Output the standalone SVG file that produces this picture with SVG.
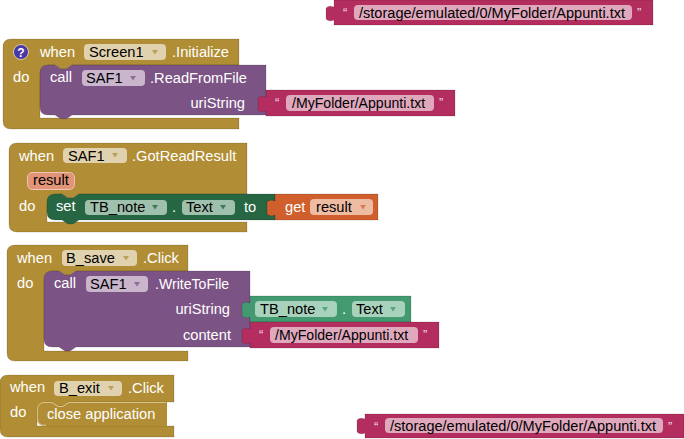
<svg xmlns="http://www.w3.org/2000/svg" width="684" height="439" viewBox="0 0 684 439">
<style>
text{font-family:"Liberation Sans",Arial,sans-serif;font-size:14.67px}
.l{fill:#fff}.k{fill:#000}.e{text-anchor:end}
.s{font-size:14.1px}
.u{font-size:14.55px}
.q{fill:#f4dbe4;font-size:13px}
.ctl{fill:#B18E35}.prc{fill:#7C5385}.str{fill:#B32D5E}.dg{fill:#266643}.lg{fill:#439970}.org{fill:#D05F2D}
.b{stroke:#000;stroke-opacity:.14;stroke-width:1}
.fc{fill:#E0D2AE}.fp{fill:#C9B6CD}.fs{fill:#E0A8BD}.fd{fill:#A0C0AE}.fl{fill:#A8D2BC}.fo{fill:#EDBCA3}
.ac{fill:#B9A05F}.ap{fill:#8E6E96}.ad{fill:#3E7A59}.al{fill:#58A680}.ao{fill:#DA7B4E}
</style>
<defs>
<path id="arr" d="M0 0h6l-3 4.500z"/>
</defs>

<g id="top-string">
<path class="str b" d="M334 0H653V25H334V20c-5 2-8 0-8-2V9c0-2 3-4 8-2z"/>
<text class="q" x="343" y="17">“</text><rect class="fs" x="354" y="5" width="278" height="15" rx="4"/>
<text class="k u" x="359" y="18">/storage/emulated/0/MyFolder/Appunti.txt</text><text class="q" x="637" y="17">”</text>
</g>

<g id="screen-init">
<path class="ctl b" d="M11 39H239V65H72l-6 4h-5l-6-4H48V73H40V118H239V129H11Q3 129 3 121V47Q3 39 11 39z"/>
<circle cx="21" cy="52" r="7.500" fill="#4A38A8" stroke="#D8CFA0" stroke-width="1"/>
<text x="21" y="56.500" text-anchor="middle" style="font-size:12px;font-weight:bold" class="l">?</text>
<text class="l" x="40" y="57">when</text>
<rect class="fc" x="84" y="44" width="82" height="16" rx="4"/><text class="k" x="89" y="57">Screen1</text><use href="#arr" class="ac" x="152" y="50"/>
<text class="l" x="172" y="57">.Initialize</text>
<text class="l" x="13" y="82">do</text>
<g id="call-read">
<path class="prc b" d="M48 65H55l6 4h5l6-4H266V115H72l-6 4h-5l-6-4H48Q40 115 40 107V73Q40 65 48 65z"/>
<text class="l" x="50" y="82">call</text>
<rect class="fp" x="82" y="70" width="63" height="16" rx="4"/><text class="k" x="86" y="83">SAF1</text><use href="#arr" class="ap" x="130" y="76"/>
<text class="l" x="150" y="83">.ReadFromFile</text>
<text class="l e" x="245" y="108">uriString</text>
</g>
<g id="string-1">
<path class="str b" d="M266 90H455V116H266V111c-5 2-8 0-8-2V99c0-2 3-4 8-2z"/>
<text class="q" x="275" y="107">“</text><rect class="fs" x="286" y="95" width="148" height="16" rx="4"/>
<text class="k s" x="292" y="108">/MyFolder/Appunti.txt</text><text class="q" x="439" y="107">”</text>
</g>
</g>

<g id="got-read-result">
<path class="ctl b" d="M17 143H247V194H79l-6 4h-5l-6-4H55V202H47V222H247V232H17Q9 232 9 224V151Q9 143 17 143z"/>
<text class="l" x="19" y="161">when</text>
<rect class="fc" x="63" y="148" width="64" height="15" rx="4"/><text class="k" x="68" y="161">SAF1</text><use href="#arr" class="ac" x="112" y="153"/>
<text class="l" x="132" y="161">.GotReadResult</text>
<rect x="27.500" y="172.500" width="47" height="17" rx="5" fill="#E29478" stroke="#EFC4B0"/><text class="k" x="33" y="185">result</text>
<text class="l" x="19" y="211">do</text>
<g id="set-text">
<path class="dg b" d="M55 194H62l6 4h5l6-4H275V220H79l-6 4h-5l-6-4H55Q47 220 47 212V202Q47 194 55 194z"/>
<text class="l" x="56" y="211">set</text>
<rect class="fd" x="85" y="200" width="82" height="15" rx="4"/><text class="k" x="90" y="212">TB_note</text><use href="#arr" class="ad" x="152" y="205"/>
<text class="l" x="172" y="212">.</text>
<rect class="fd" x="182" y="200" width="53" height="15" rx="4"/><text class="k" x="186" y="212">Text</text><use href="#arr" class="ad" x="220" y="205"/>
<text class="l" x="244" y="212">to</text>
</g>
<g id="get-result">
<path class="org b" d="M275 194H378V220H275V215c-5 2-8 0-8-2V203c0-2 3-4 8-2z"/>
<text class="l" x="285" y="212">get</text>
<rect class="fo" x="310" y="199" width="63" height="16" rx="4"/><text class="k" x="316" y="212">result</text><use href="#arr" class="ao" x="360" y="205"/>
</g>
</g>

<g id="b-save-click">
<path class="ctl b" d="M15 245H188V271H76l-6 4h-5l-6-4H52V279H44V351H188V361H15Q7 361 7 353V253Q7 245 15 245z"/>
<text class="l" x="17" y="263">when</text>
<rect class="fc" x="62" y="250" width="75" height="16" rx="4"/><text class="k" x="66" y="263">B_save</text><use href="#arr" class="ac" x="123" y="256"/>
<text class="l" x="143" y="263">.Click</text>
<text class="l" x="17" y="288">do</text>
<g id="call-write">
<path class="prc b" d="M52 271H59l6 4h5l6-4H250V347H76l-6 4h-5l-6-4H52Q44 347 44 339V279Q44 271 52 271z"/>
<text class="l" x="54" y="288">call</text>
<rect class="fp" x="86" y="276" width="62" height="16" rx="4"/><text class="k" x="90" y="289">SAF1</text><use href="#arr" class="ap" x="134" y="282"/>
<text class="l s" x="155" y="289">.WriteToFile</text>
<text class="l e" x="230" y="314">uriString</text>
<text class="l e" x="231" y="340">content</text>
</g>
<g id="tb-note-text">
<path class="lg b" d="M250 296H411V322H250V317c-5 2-8 0-8-2V305c0-2 3-4 8-2z"/>
<rect class="fl" x="255" y="301" width="82" height="16" rx="4"/><text class="k" x="260" y="314">TB_note</text><use href="#arr" class="al" x="322" y="307"/>
<text class="l" x="342" y="314">.</text>
<rect class="fl" x="352" y="301" width="53" height="16" rx="4"/><text class="k" x="356" y="314">Text</text><use href="#arr" class="al" x="390" y="307"/>
</g>
<g id="string-2">
<path class="str b" d="M250 322H439V348H250V343c-5 2-8 0-8-2V331c0-2 3-4 8-2z"/>
<text class="q" x="259" y="339">“</text><rect class="fs" x="270" y="327" width="148" height="16" rx="4"/>
<text class="k s" x="275" y="340">/MyFolder/Appunti.txt</text><text class="q" x="423" y="339">”</text>
</g>
</g>

<g id="b-exit-click">
<path class="ctl b" d="M8 375H174V402H69l-6 4h-5l-6-4H45V410H37V426H174V437H8Q0 437 0 429V383Q0 375 8 375z"/>
<text class="l" x="10" y="392">when</text>
<rect class="fc" x="54" y="381" width="68" height="15" rx="4"/><text class="k" x="59" y="393">B_exit</text><use href="#arr" class="ac" x="108" y="386"/>
<text class="l" x="128" y="393">.Click</text>
<text class="l" x="10" y="417">do</text>
<g id="close-application">
<path class="ctl" d="M45 402H52l6 4h5l6-4H167V426H45Q37 426 37 418V410Q37 402 45 402z"/>
<path fill="none" stroke="#D6C48C" d="M46 425.500Q37.500 425.500 37.500 418V410Q37.500 402.500 45 402.500H52l6 4h5l6-4H166"/>
<text class="l" x="47" y="419">close application</text>
</g>
</g>

<g id="bottom-string">
<path class="str b" d="M365 414H684V438H365V433c-5 2-8 0-8-2V421c0-2 3-4 8-2z"/>
<text class="q" x="374" y="431">“</text><rect class="fs" x="385" y="418" width="278" height="15" rx="4"/>
<text class="k u" x="390" y="431">/storage/emulated/0/MyFolder/Appunti.txt</text><text class="q" x="668" y="431">”</text>
</g>
</svg>
